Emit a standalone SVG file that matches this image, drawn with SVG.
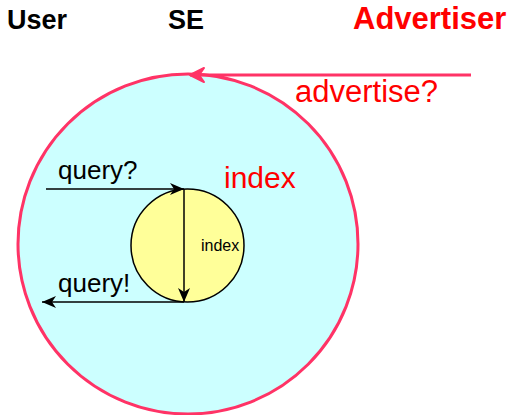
<svg xmlns="http://www.w3.org/2000/svg" width="513" height="415" viewBox="0 0 513 415">
<style>
text{font-family:"Liberation Sans",Arial,sans-serif}
.hdr{font-weight:bold;font-size:27px;fill:#000}
.big{font-size:31px}
.red{fill:#ff0000}
.lbl{font-size:26px;fill:#000}
.blk{stroke:#000;stroke-width:1.5;fill:none}
.pnk{stroke:#ff3366;stroke-width:3;fill:none}
</style>
<defs>
<marker id="ab" viewBox="0 0 14 12" refX="14" refY="6" markerWidth="14" markerHeight="12" markerUnits="userSpaceOnUse" orient="auto">
<path d="M0,0 L14,6 L0,12 L4,6 z" fill="#000"/>
</marker>
<marker id="ap" viewBox="0 0 18 18" refX="16" refY="9" markerWidth="18" markerHeight="18" markerUnits="userSpaceOnUse" orient="auto">
<path d="M2,2 L16,9 L2,16 L7,9 z" fill="#ff3366" stroke="#ff3366" stroke-width="2" stroke-linejoin="round"/>
</marker>
</defs>
<g id="se">
<circle cx="188" cy="244" r="170" fill="#ccffff" stroke="#ff3366" stroke-width="3"/>
</g>
<g id="index">
<circle cx="187.5" cy="245.5" r="56.5" fill="#ffff99" stroke="#000" stroke-width="1.5"/>
<text x="201" y="251" font-size="16">index</text>
</g>
<g id="connectors">
<line class="pnk" x1="471" y1="75" x2="190" y2="75" marker-end="url(#ap)"/>
<line class="blk" x1="46" y1="189" x2="184" y2="189" marker-end="url(#ab)"/>
<line class="blk" x1="184" y1="189" x2="184" y2="302" marker-end="url(#ab)"/>
<line class="blk" x1="184" y1="302" x2="42" y2="302" marker-end="url(#ab)"/>
</g>
<g id="labels">
<text class="hdr" x="7" y="29">User</text>
<text class="hdr" x="168" y="29">SE</text>
<text class="hdr red big" x="353" y="29">Advertiser</text>
<text class="red big" x="295" y="102">advertise?</text>
<text class="red" x="224" y="188" font-size="30">index</text>
<text class="lbl" x="58" y="179">query?</text>
<text class="lbl" x="58" y="292">query!</text>
</g>
</svg>
